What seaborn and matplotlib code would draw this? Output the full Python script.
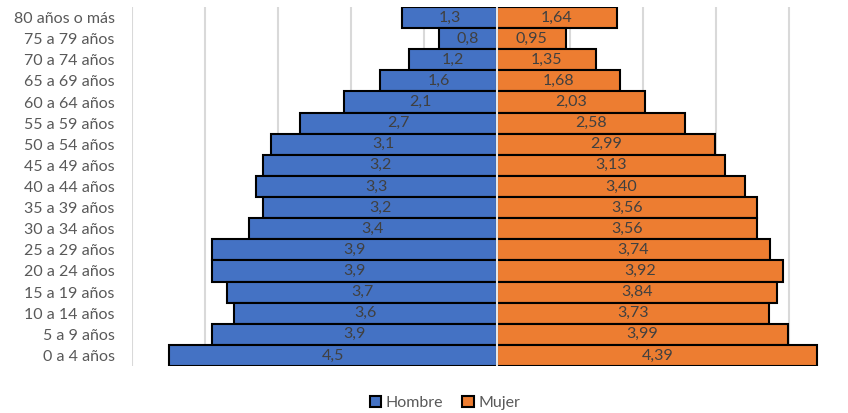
import matplotlib
matplotlib.use("Agg")
import matplotlib.pyplot as plt
import seaborn as sns
import pandas as pd
from matplotlib.patches import Patch

grupos = ["80 años o más", "75 a 79 años", "70 a 74 años", "65 a 69 años",
          "60 a 64 años", "55 a 59 años", "50 a 54 años", "45 a 49 años",
          "40 a 44 años", "35 a 39 años", "30 a 34 años", "25 a 29 años",
          "20 a 24 años", "15 a 19 años", "10 a 14 años", "5 a 9 años",
          "0 a 4 años"]
hombre = [1.3, 0.8, 1.2, 1.6, 2.1, 2.7, 3.1, 3.2, 3.3, 3.2, 3.4, 3.9,
          3.9, 3.7, 3.6, 3.9, 4.5]
mujer = [1.64, 0.95, 1.35, 1.68, 2.03, 2.58, 2.99, 3.13, 3.40, 3.56, 3.56,
         3.74, 3.92, 3.84, 3.73, 3.99, 4.39]

azul = "#4472C4"
naranja = "#ED7D31"
gris = "#595959"

df = pd.DataFrame({
    "grupo": grupos * 2,
    "sexo": ["Hombre"] * len(grupos) + ["Mujer"] * len(grupos),
    "valor": [-v for v in hombre] + mujer,
})

sns.set_style("white")
plt.rcParams["font.family"] = ["Lato", "DejaVu Sans"]

fig = plt.figure(figsize=(8.48, 4.13), dpi=100)
ax = fig.add_axes([132 / 848, 47 / 413, 716 / 848, 359 / 413])

sns.barplot(data=df, x="valor", y="grupo", hue="sexo", order=grupos,
            hue_order=["Hombre", "Mujer"], palette=[azul, naranja],
            saturation=1, dodge=False, width=1.0, orient="h",
            edgecolor="black", linewidth=1.5, ax=ax, legend=False, zorder=2)

ax.set_xlim(-5, 716 / 73 - 5)
ax.set_ylim(len(grupos) - 0.5, -0.5)
ax.set_xticks(range(-5, 5))
ax.grid(axis="x", color="#d9d9d9", linewidth=1.5, zorder=0)
ax.set_axisbelow(True)
ax.tick_params(axis="x", bottom=False, labelbottom=False)
ax.tick_params(axis="y", left=False, pad=9, labelsize=11.5, labelcolor=gris)
ax.set_xlabel("")
ax.set_ylabel("")
for s in ax.spines.values():
    s.set_visible(False)

ax.axvline(0, color="#e6e6e6", linewidth=1.5, zorder=5)

for i, (h, m) in enumerate(zip(hombre, mujer)):
    ax.text(-h / 2, i, f"{h:.1f}".replace(".", ","), ha="center",
            va="center", fontsize=11.5, color="#404040", zorder=6)
    ax.text(m / 2, i, f"{m:.2f}".replace(".", ","), ha="center",
            va="center", fontsize=11.5, color="#404040", zorder=6)

handles = [Patch(facecolor=azul, edgecolor="black", linewidth=1.5, label="Hombre"),
           Patch(facecolor=naranja, edgecolor="black", linewidth=1.5, label="Mujer")]
fig.legend(handles=handles, loc="center", bbox_to_anchor=(445 / 848, 1 - 403 / 413),
           ncol=2, frameon=False, fontsize=11.5, labelcolor=gris,
           handlelength=0.7, handleheight=0.7, handletextpad=0.3,
           columnspacing=1.2)

fig.savefig("out.png", dpi=100)
